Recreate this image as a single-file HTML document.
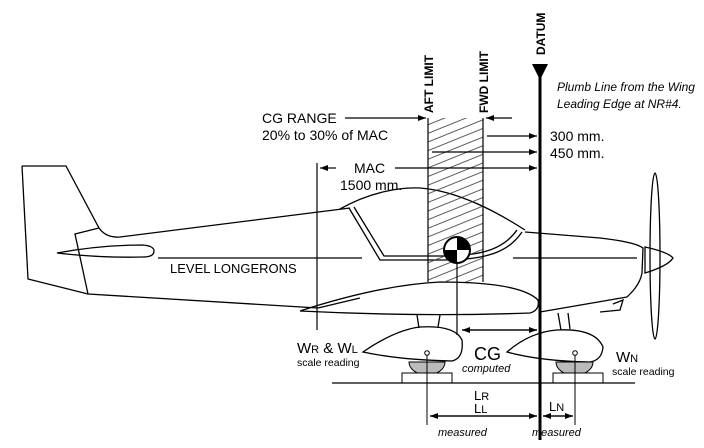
<!DOCTYPE html>
<html><head><meta charset="utf-8"><style>
html,body{margin:0;padding:0;background:#fff;}
svg{display:block;font-family:"Liberation Sans",Arial,sans-serif;}
</style></head><body>
<svg width="704" height="448" viewBox="0 0 704 448">
<defs>
<pattern id="hatch" patternUnits="userSpaceOnUse" width="8" height="8" patternTransform="rotate(-22)">
<line x1="0" y1="4" x2="8" y2="4" stroke="#333" stroke-width="0.8"/>
</pattern>
<marker id="ah" markerWidth="8" markerHeight="6" refX="8" refY="3" orient="auto" markerUnits="userSpaceOnUse"><path d="M0,0 L8,3 L0,6 z" fill="#000"/></marker>
</defs>
<g fill="none" stroke="#000" stroke-width="1.3">
<path d="M22,166 L66,166 L99,228 Q106,238 120,237 L350,208"/>
<path d="M22,166 L28,279 L88,294 L318,308"/>
<path d="M99,228 L75,234 L88,294"/>
<path d="M57,253 Q100,245 143,245 Q154,246 154,251 Q154,257 143,257 Q100,258 57,253 z"/>
<path d="M340,209 C370,192 400,187 420,188 C460,191 500,214 525,230"/>
<path d="M349,208 L380,260 L443,260 C490,260 510,250 522,232"/>
<path d="M354,207 L384,256 L443,256 C486,256 505,247 517,230"/>
<path d="M525,232 L600,238 Q635,242 643,248 L642,273 Q640,285 627,297"/>
<path d="M540,312 L627,297"/>
<path d="M613,304 L623,300 L620,310 L600,312"/>
<path d="M300,311 Q380,285 440,282 Q520,282 538,300 Q540,310 530,313 Q420,317 300,311"/>
<path d="M318,308 L360,298"/>
<path d="M645,247 Q668,252 673,258 Q668,266 645,273 z"/>
<ellipse cx="655" cy="256" rx="5" ry="83"/>
<path d="M417,315 L419,328 M440,315 L438,327"/>
<path d="M363,352 Q395,330 420,327 Q455,325 462,340 Q464,358 452,361 Q400,360 363,352 z"/>
<path d="M558,313 L561,330 M568,313 L570,329"/>
<path d="M507,352 Q530,332 557,330 Q595,328 603,347 Q602,360 590,362 Q540,361 507,352 z"/>
</g>
<path d="M409,362 A18,13 0 0 0 445,362 z" fill="#bbb" stroke="#000"/>
<path d="M556,362 A18,13 0 0 0 593,362 z" fill="#bbb" stroke="#000"/>
<rect x="402" y="373" width="50" height="10" fill="#fff" stroke="#000"/>
<rect x="553" y="373" width="50" height="10" fill="#fff" stroke="#000"/>
<line x1="332" y1="383" x2="635" y2="383" stroke="#000" stroke-width="1.2"/>
<rect x="428" y="118" width="55" height="164" fill="url(#hatch)" stroke="none"/>
<line x1="428" y1="118" x2="428" y2="282" stroke="#000" stroke-width="1.2"/>
<line x1="483" y1="118" x2="483" y2="282" stroke="#000" stroke-width="1.2"/>
<g stroke="#000" stroke-width="1.2">
<line x1="158" y1="258" x2="362" y2="258"/>
<line x1="513" y1="258" x2="637" y2="258"/>
</g>
<line x1="317" y1="163" x2="317" y2="330" stroke="#000" stroke-width="1.2"/>
<line x1="540" y1="75" x2="540" y2="440" stroke="#000" stroke-width="3"/>
<path d="M532,64 L548,64 L540,80 z" fill="#000"/>
<g>
<circle cx="457" cy="250" r="13" fill="#fff" stroke="#000" stroke-width="2"/>
<path d="M457,250 L457,237 A13,13 0 0 1 470,250 z" fill="#000"/>
<path d="M457,250 L457,263 A13,13 0 0 1 444,250 z" fill="#000"/>
</g>
<line x1="457" y1="263" x2="457" y2="335" stroke="#000" stroke-width="1.2"/>
<line x1="427" y1="353" x2="427" y2="425" stroke="#000" stroke-width="1"/>
<line x1="575" y1="353" x2="575" y2="425" stroke="#000" stroke-width="1"/>
<circle cx="427" cy="353" r="2.3" fill="#fff" stroke="#000"/>
<circle cx="575" cy="353" r="2.3" fill="#fff" stroke="#000"/>
<g stroke="#000" stroke-width="1.2" fill="none">
<line x1="345" y1="118" x2="426" y2="118" marker-end="url(#ah)"/>
<line x1="512" y1="118" x2="486" y2="118" marker-end="url(#ah)"/>
<line x1="487" y1="136" x2="537" y2="136" marker-end="url(#ah)"/>
<line x1="432" y1="152" x2="537" y2="152" marker-end="url(#ah)"/>
<line x1="336" y1="168" x2="320" y2="168" marker-end="url(#ah)"/>
<line x1="395" y1="168" x2="537" y2="168" marker-end="url(#ah)"/>
<line x1="462" y1="330" x2="537" y2="330" marker-end="url(#ah)"/>
<line x1="537" y1="330" x2="462" y2="330" marker-end="url(#ah)"/>
<line x1="430" y1="416" x2="537" y2="416" marker-end="url(#ah)"/>
<line x1="537" y1="416" x2="430" y2="416" marker-end="url(#ah)"/>
<line x1="543" y1="416" x2="573" y2="416" marker-end="url(#ah)"/>
<line x1="573" y1="416" x2="543" y2="416" marker-end="url(#ah)"/>
</g>
<g fill="#000" font-size="14">
<text x="545" y="55" transform="rotate(-90 545 55)" font-weight="bold" font-size="12">DATUM</text>
<text x="433" y="113" transform="rotate(-90 433 113)" font-weight="bold" font-size="12">AFT LIMIT</text>
<text x="488" y="113" transform="rotate(-90 488 113)" font-weight="bold" font-size="12">FWD LIMIT</text>
<text x="557" y="91" font-style="italic" font-size="12">Plumb Line from the Wing</text>
<text x="557" y="108" font-style="italic" font-size="12">Leading Edge at NR#4.</text>
<text x="262" y="123">CG RANGE</text>
<text x="262" y="140">20% to 30% of MAC</text>
<text x="550" y="141">300 mm.</text>
<text x="550" y="158">450 mm.</text>
<text x="354" y="173">MAC</text>
<text x="340" y="190">1500 mm.</text>
<text x="170" y="273" font-size="13">LEVEL LONGERONS</text>
<text x="297" y="353" font-size="15">W<tspan font-size="11">R</tspan> &amp; W<tspan font-size="11">L</tspan></text>
<text x="297" y="366" font-size="10.5">scale reading</text>
<text x="474" y="360" font-size="18">CG</text>
<text x="462" y="372" font-size="11" font-style="italic">computed</text>
<text x="616" y="362" font-size="15">W<tspan font-size="11">N</tspan></text>
<text x="612" y="375" font-size="10.5">scale reading</text>
<text x="474" y="400" font-size="13">L<tspan font-size="11">R</tspan></text>
<text x="474" y="413" font-size="13">L<tspan font-size="11">L</tspan></text>
<text x="549" y="411" font-size="13">L<tspan font-size="11">N</tspan></text>
<text x="438" y="436" font-size="11" font-style="italic">measured</text>
<text x="532" y="436" font-size="11" font-style="italic">measured</text>
</g>
</svg>
</body></html>
